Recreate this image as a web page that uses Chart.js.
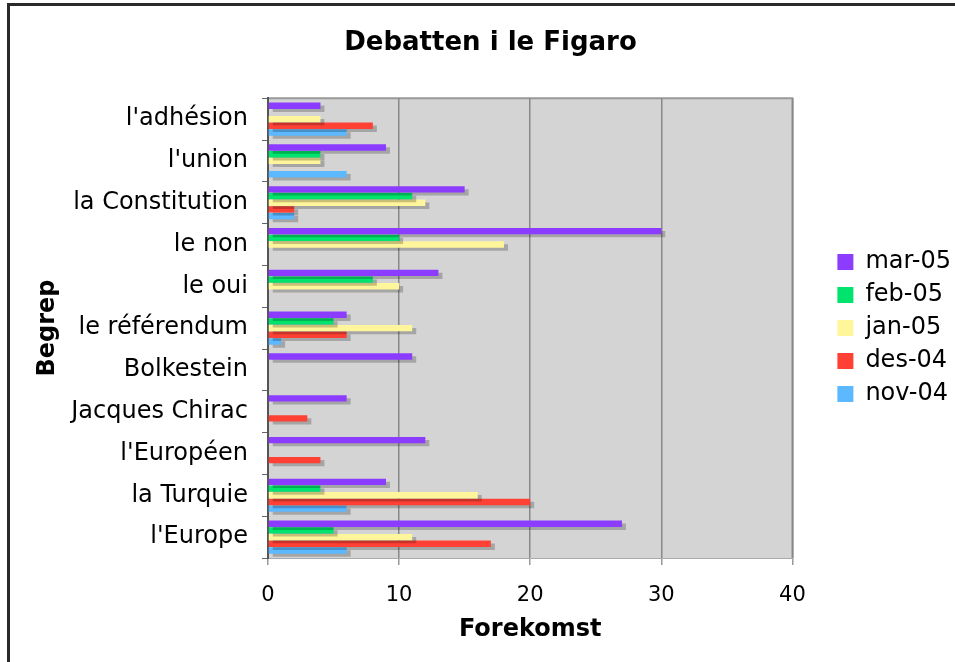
<!DOCTYPE html>
<html>
<head>
<meta charset="utf-8">
<script src="https://cdn.jsdelivr.net/npm/chart.js@4/dist/chart.umd.min.js"></script>
<style>
  html, body { margin: 0; padding: 0; background: #fff; }
  #wrap { position: relative; width: 955px; height: 662px; overflow: hidden; }
  #frame { position: absolute; left: 7px; top: 3px; width: 1000px; height: 700px;
           border-left: 3px solid #2a2a2a; border-top: 3px solid #2a2a2a; }
  canvas { position: absolute; left: 0; top: 0; }
</style>
</head>
<body>
<div id="wrap">
  <div id="frame"></div>
  <canvas id="chart" width="955" height="662"></canvas>
</div>
<script>
// Begrep (kategorier) og forekomst per måned
const categories = ["l'adhésion", "l'union", "la Constitution", "le non", "le oui", "le référendum",
  "Bolkestein", "Jacques Chirac", "l'Européen", "la Turquie", "l'Europe"];
const mar05 = [4, 9, 15, 30, 13, 6, 11, 6, 12, 9, 27];
const feb05 = [0, 4, 11, 10, 8, 5, 0, 0, 0, 4, 5];
const jan05 = [4, 4, 12, 18, 10, 11, 0, 0, 0, 16, 11];
const des04 = [8, 0, 2, 0, 0, 6, 0, 3, 4, 20, 17];
const nov04 = [6, 6, 2, 0, 0, 1, 0, 0, 0, 6, 6];
const seriesNames = ['mar-05', 'feb-05', 'jan-05', 'des-04', 'nov-04'];
const xTicks = [0, 10, 20, 30, 40];

const colors = ['#8c3cff', '#00e36c', '#fff59a', '#ff4035', '#5cb8ff'];
const FONT = 'DejaVu Sans';

// grå bakgrunn + ramme rundt plottet
const plotBg = {
  id: 'plotBg',
  beforeDraw(chart) {
    const { ctx, chartArea: a } = chart;
    ctx.save();
    ctx.fillStyle = '#d4d4d4';
    ctx.fillRect(a.left, a.top, a.right - a.left, a.bottom - a.top);
    ctx.strokeStyle = '#999';
    ctx.lineWidth = 2;
    ctx.beginPath();
    ctx.moveTo(a.left, a.top);
    ctx.lineTo(a.right, a.top);
    ctx.lineTo(a.right, a.bottom);
    ctx.stroke();
    ctx.restore();
  }
};

// skygge under stolpene
const barShadow = {
  id: 'barShadow',
  beforeDatasetsDraw(chart) {
    const ctx = chart.ctx;
    ctx.save();
    ctx.shadowColor = 'rgba(0,0,0,0.22)';
    ctx.shadowOffsetX = 4;
    ctx.shadowOffsetY = 3;
    ctx.shadowBlur = 0;
  },
  afterDatasetsDraw(chart) {
    chart.ctx.restore();
  }
};

const ctx = document.getElementById('chart').getContext('2d');
const chart = new Chart(ctx, {
  type: 'bar',
  data: {
    labels: categories,
    datasets: [mar05, feb05, jan05, des04, nov04].map((d, i) => ({
      label: seriesNames[i],
      data: d,
      backgroundColor: colors[i],
      borderWidth: 0,
      categoryPercentage: 0.8,
      barPercentage: 0.95
    }))
  },
  options: {
    indexAxis: 'y',
    responsive: false,
    animation: false,
    layout: { padding: { left: 20, right: -6, top: 8, bottom: 0 } },
    scales: {
      x: {
        min: 0, max: 40,
        afterBuildTicks(s) { s.ticks = xTicks.map(v => ({ value: v })); },
        afterFit(s) { s.height = 104; },
        ticks: { color: '#000', font: { family: FONT, size: 21 }, padding: 18 },
        grid: { color: '#888', lineWidth: 1.5, tickLength: 7, tickColor: '#999' },
        border: { display: true, color: '#aaa', width: 1 },
        title: { display: true, text: 'Forekomst', color: '#000',
                 font: { family: FONT, size: 24, weight: 'bold' }, padding: { top: 0, bottom: 18 } }
      },
      y: {
        afterFit(s) { s.width = 248; },
        ticks: { color: '#000', font: { family: FONT, size: 24 }, padding: 14 },
        grid: { display: true, drawOnChartArea: false, offset: true, tickLength: 6, color: '#666' },
        border: { display: true, color: '#555', width: 2 },
        title: { display: true, text: 'Begrep', color: '#000',
                 font: { family: FONT, size: 24, weight: 'bold' }, padding: { top: 13, bottom: 0 } }
      },
      y2: {
        position: 'right',
        type: 'category',
        labels: categories,
        afterFit(s) { s.width = 36; },
        ticks: { display: false },
        grid: { display: false },
        border: { display: false }
      }
    },
    plugins: {
      title: {
        display: true, text: 'Debatten i le Figaro', color: '#000',
        font: { family: FONT, size: 26, weight: 'bold' },
        padding: { top: 20, bottom: 39 }
      },
      legend: {
        position: 'right',
        fullSize: false,
        labels: {
          color: '#000', font: { family: FONT, size: 24 },
          boxWidth: 16, boxHeight: 16, padding: 9
        }
      },
      tooltip: { enabled: false }
    }
  },
  plugins: [plotBg, barShadow]
});
</script>
</body>
</html>
